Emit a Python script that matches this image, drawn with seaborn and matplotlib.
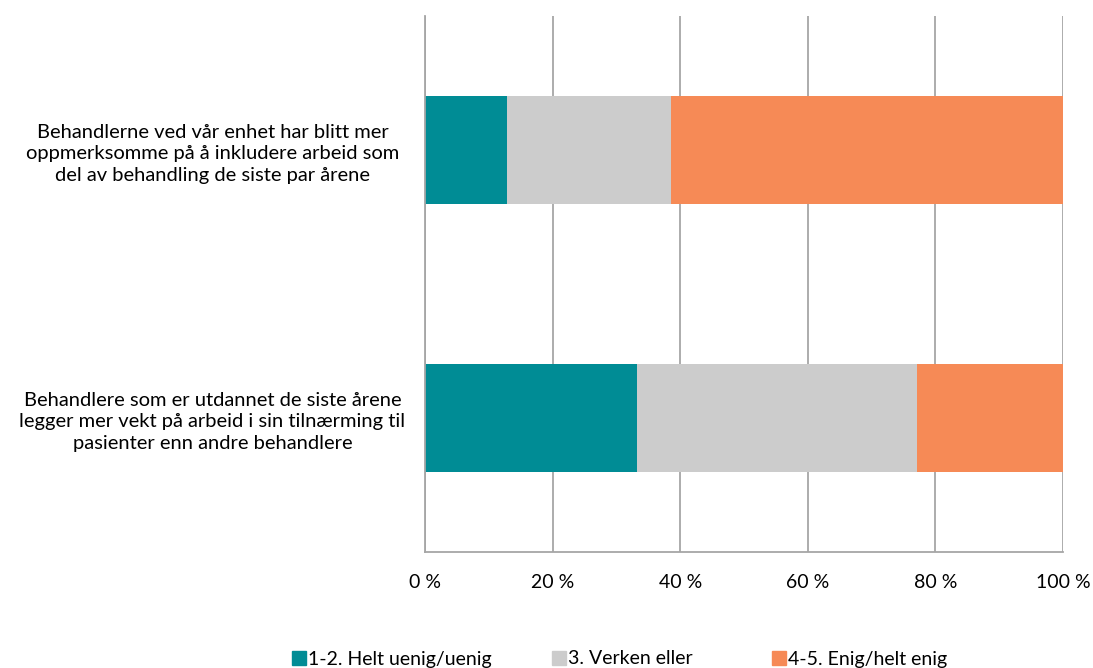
import pandas as pd
import seaborn as sns
import matplotlib.pyplot as plt
from matplotlib.lines import Line2D

categories = [
    "Behandlerne ved vår enhet har blitt mer\noppmerksomme på å inkludere arbeid som\ndel av behandling de siste par årene",
    "Behandlere som er utdannet de siste årene\nlegger mer vekt på arbeid i sin tilnærming til\npasienter enn andre behandlere",
]
series_names = ["1-2. Helt uenig/uenig", "3. Verken eller", "4-5. Enig/helt enig"]
uenig = [12.8, 33.3]
verken = [25.7, 43.8]
enig = [61.5, 22.9]
colors = ["#008C95", "#CCCCCC", "#F68A56"]
x_ticks = [0, 20, 40, 60, 80, 100]

sns.set_style("white")
plt.rcParams["font.family"] = ["Lato", "DejaVu Sans"]
plt.rcParams["text.color"] = "black"
plt.rcParams["xtick.color"] = "black"
plt.rcParams["ytick.color"] = "black"

df = pd.DataFrame({"Påstand": categories, series_names[0]: uenig,
                   series_names[1]: verken, series_names[2]: enig})
cum = df[series_names].cumsum(axis=1)

fig = plt.figure(figsize=(10.93, 6.68), dpi=100)
ax = fig.add_axes([0.3888, 1 - 552 / 668, 0.9725 - 0.3888, (552 - 16) / 668])

# stacked bars: draw cumulative totals from the largest down
for name, col in reversed(list(zip(series_names, colors))):
    sns.barplot(x=cum[name], y=df["Påstand"], color=col, width=0.4,
                orient="h", ax=ax, saturation=1, linewidth=0)

grid_col = "#A6A6A6"
ax.set_xlim(0, 100)
ax.set_ylim(1.5, -0.5)
ax.set_xticks(x_ticks)
ax.set_xticklabels([f"{t} %" for t in x_ticks], fontsize=14)
ax.set_xlabel("")
ax.set_ylabel("")
ax.grid(axis="x", color=grid_col, linewidth=1.3)
ax.set_axisbelow(True)
for s in ["top", "right"]:
    ax.spines[s].set_visible(False)
for s in ["left", "bottom"]:
    ax.spines[s].set_color(grid_col)
    ax.spines[s].set_linewidth(1.3)

ax.tick_params(axis="x", length=5, width=1.3, color=grid_col, pad=11, direction="out")
ax.set_yticks([0, 1])
ax.set_yticklabels(categories, fontsize=14.5, ha="center", multialignment="center",
                   linespacing=1.35)
ax.tick_params(axis="y", length=0, pad=153)
ax.set_yticks([-0.5, 0.5, 1.5], minor=True)
ax.tick_params(axis="y", which="minor", length=6, width=1.3, color=grid_col, direction="out")

# one legend per entry, placed like the original
legend_x = [291, 551, 771]
for name, col, lx in zip(series_names, colors, legend_x):
    h = Line2D([], [], marker="s", linestyle="", markersize=10, color=col)
    fig.legend([h], [name], loc="center left", bbox_to_anchor=(lx / 1093, 1 - 659 / 668),
               frameon=False, fontsize=14, handletextpad=0.05, handlelength=0.8,
               borderpad=0, borderaxespad=0)

fig.savefig("out.png", dpi=100)
